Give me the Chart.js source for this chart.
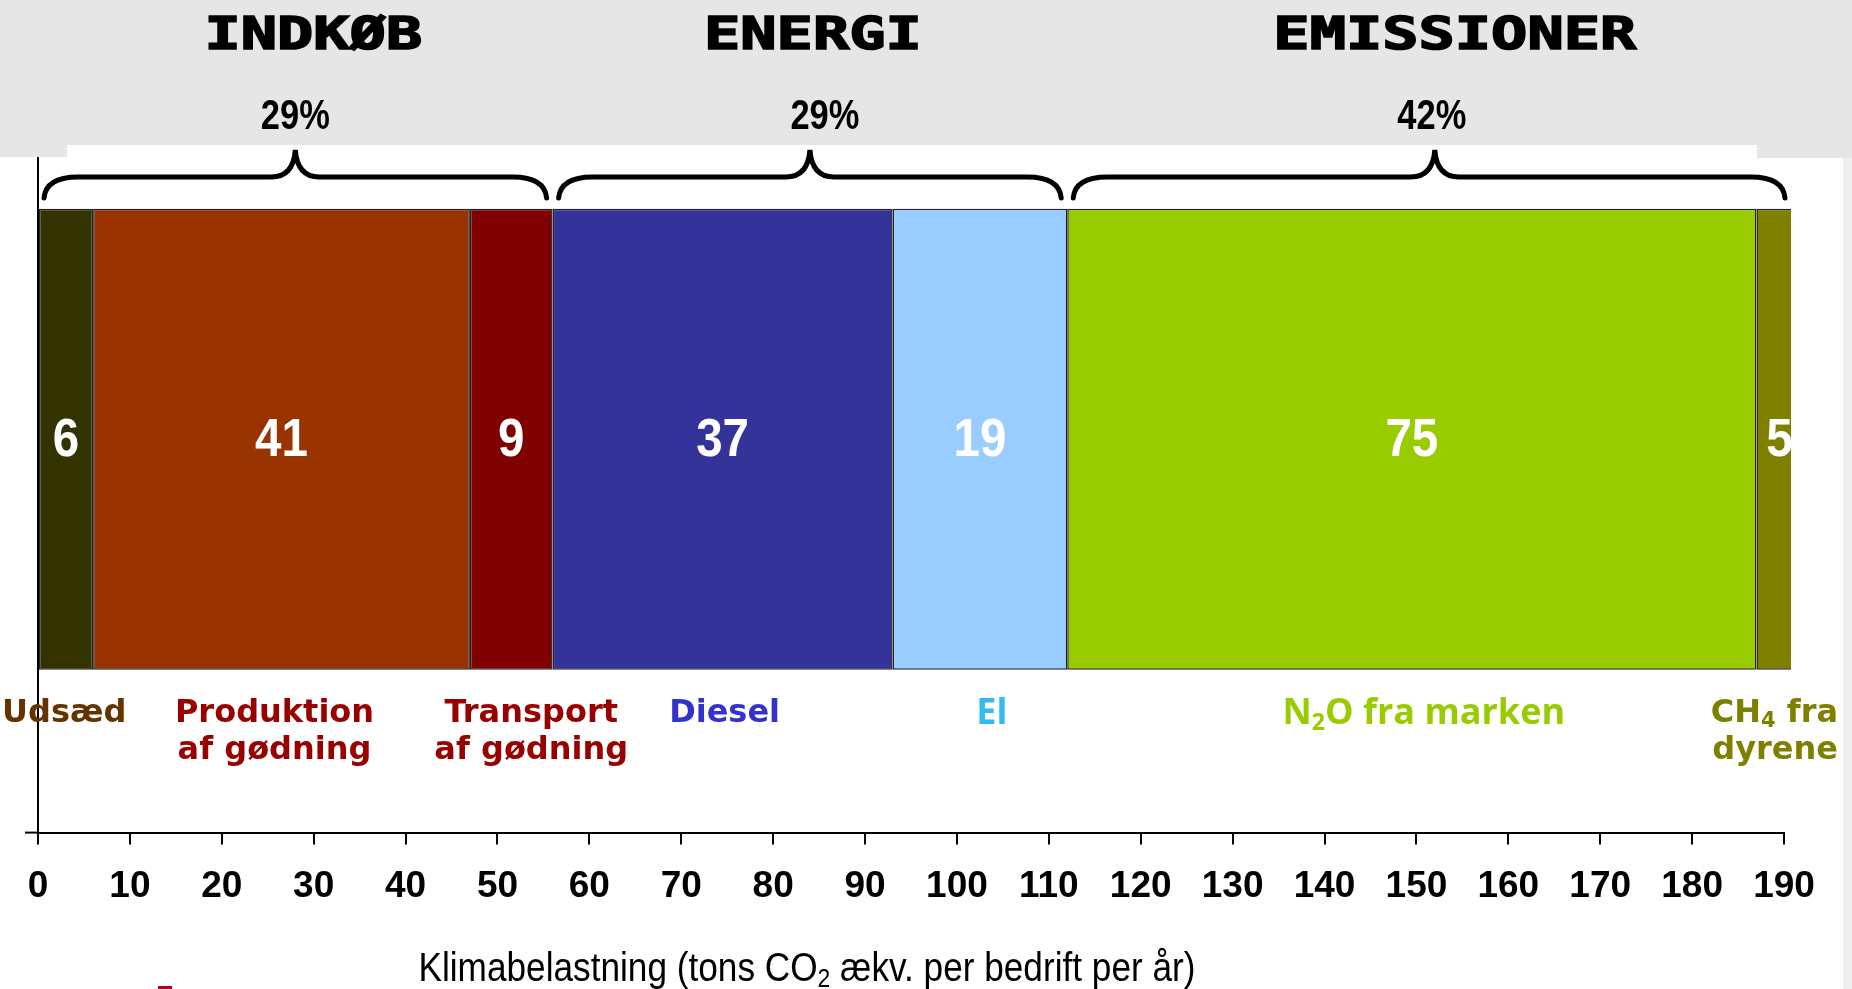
<!DOCTYPE html>
<html>
<head>
<meta charset="utf-8">
<script src="https://cdn.jsdelivr.net/npm/chart.js@4/dist/chart.umd.min.js"></script>
<style>
  html, body { margin: 0; padding: 0; background: #fff; overflow: hidden; }
  #wrap { width: 1852px; height: 989px; }
</style>
</head>
<body>
<div id="wrap"><canvas id="chart" width="1852" height="989"></canvas></div>
<script>
// segments of the stacked bar, left to right
const segmentNames = ['Udsæd', 'Produktion af gødning', 'Transport af gødning', 'Diesel', 'El', 'N₂O fra marken', 'CH₄ fra dyrene'];
const segmentLines = [['Udsæd'], ['Produktion', 'af gødning'], ['Transport', 'af gødning'], ['Diesel'], ['El'], ['N₂O fra marken'], ['CH₄ fra', 'dyrene']];
const segmentValues = [6, 41, 9, 37, 19, 75, 5];

// groups marked with braces above the bar
const groupNames = ['INDKØB', 'ENERGI', 'EMISSIONER'];
const groupShares = ['29%', '29%', '42%'];
const groupCounts = [3, 2, 2];

// x axis
const xMin = 0, xMax = 190, xStep = 10;
const xTitle = 'Klimabelastning (tons CO₂ ækv. per bedrift per år)';

// styles
const segmentColors = ['#333300', '#993300', '#800000', '#333399', '#99ccff', '#99cc00', '#808000'];
const labelColors = ['#663300', '#990000', '#990000', '#3333cc', '#33bbee', '#99cc00', '#808000'];
const labelPlace = [
  { anchor: 'left', at: 2 },
  { dx: -7 }, { dx: 20 }, { dx: 2 },
  { dx: 12, family: '"Open Sans", sans-serif', size: 36 },
  { dx: 12, family: '"Open Sans", sans-serif', size: 36 },
  { anchor: 'right', at: 1838 }
];
const titleNudge = [18, 3, 20];
const shareNudge = [0, 15, -3];
const ARIAL = '"Liberation Sans", Arial, sans-serif';
const VERDANA = '"DejaVu Sans", Verdana, sans-serif';
const MONO = '"DejaVu Sans Mono", monospace';
const OVERFLOW = 7; // bar runs a few px past the last tick

const SUBS = '₀₁₂₃₄₅₆₇₈₉';

function splitSubs(text) {
  const parts = [];
  for (const ch of text) {
    const sub = SUBS.indexOf(ch);
    const isSub = sub >= 0;
    const c = isSub ? String(sub) : ch;
    const last = parts[parts.length - 1];
    if (last && last.sub === isSub) last.t += c; else parts.push({ t: c, sub: isSub });
  }
  return parts;
}

// text with subscript digits, optionally squeezed horizontally
function drawRich(ctx, text, x, y, size, family, weight, align, sx) {
  sx = sx || 1;
  const parts = splitSubs(text);
  const big = weight + ' ' + size + 'px ' + family;
  const small = weight + ' ' + Math.round(size * 0.65) + 'px ' + family;
  let total = 0;
  parts.forEach(p => { ctx.font = p.sub ? small : big; p.w = ctx.measureText(p.t).width; total += p.w; });
  let cx = align === 'center' ? -total / 2 : align === 'right' ? -total : 0;
  ctx.save();
  ctx.translate(x, y);
  ctx.scale(sx, 1);
  ctx.textAlign = 'left';
  ctx.textBaseline = 'middle';
  parts.forEach(p => {
    ctx.font = p.sub ? small : big;
    ctx.fillText(p.t, cx, p.sub ? size * 0.25 : 0);
    cx += p.w;
  });
  ctx.restore();
}

function brace(ctx, x0, x1, xm, yEnd, yLine, yTip) {
  const r = 34, t = 24;
  ctx.beginPath();
  ctx.moveTo(x0, yEnd);
  ctx.quadraticCurveTo(x0 + 2, yLine, x0 + r, yLine);
  ctx.lineTo(xm - t, yLine);
  ctx.quadraticCurveTo(xm - 2, yLine, xm, yTip);
  ctx.quadraticCurveTo(xm + 2, yLine, xm + t, yLine);
  ctx.lineTo(x1 - r, yLine);
  ctx.quadraticCurveTo(x1 - 2, yLine, x1, yEnd);
  ctx.stroke();
}

const decor = {
  id: 'decor',
  afterDatasetsDraw(chart) {
    const { ctx, chartArea: a } = chart;
    ctx.save();
    ctx.beginPath();
    ctx.rect(a.left, a.top, a.right - a.left + OVERFLOW, a.bottom - a.top);
    ctx.clip();
    ctx.fillStyle = '#ffffff';
    segmentValues.forEach((v, i) => {
      const bar = chart.getDatasetMeta(i).data[0];
      const p = bar.getProps(['x', 'y', 'base'], true);
      drawRich(ctx, String(v), (p.x + p.base) / 2, p.y + 2, 54, ARIAL, 'bold', 'center', 0.88);
    });
    ctx.restore();
  },
  afterDraw(chart) {
    const { ctx, chartArea: a } = chart;
    const xs = chart.scales.x;
    const W = chart.width, H = chart.height;
    ctx.save();

    // slide background
    ctx.fillStyle = '#e6e6e6';
    ctx.fillRect(0, 0, W, 145);
    ctx.fillRect(0, 145, 67, 12);
    ctx.fillRect(1757, 145, W - 1757, 13);
    ctx.fillStyle = '#efefef';
    ctx.fillRect(1843, 158, W - 1843, H - 158);
    ctx.fillStyle = '#b00020';
    ctx.fillRect(158, 986, 14, 3);

    // x axis line extends a little left of zero
    ctx.strokeStyle = '#000';
    ctx.lineWidth = 2;
    ctx.beginPath();
    ctx.moveTo(a.left - 13, a.bottom);
    ctx.lineTo(a.left, a.bottom);
    ctx.stroke();

    // braces, group names and shares
    let start = 0, idx = 0;
    groupNames.forEach((g, gi) => {
      let sum = 0;
      for (let k = 0; k < groupCounts[gi]; k++) sum += segmentValues[idx + k];
      idx += groupCounts[gi];
      const px0 = xs.getPixelForValue(start);
      const px1 = Math.min(xs.getPixelForValue(start + sum), a.right + OVERFLOW);
      const mid = (xs.getPixelForValue(start) + xs.getPixelForValue(start + sum)) / 2;
      start += sum;

      ctx.strokeStyle = '#000';
      ctx.lineWidth = 5;
      ctx.lineCap = 'round';
      brace(ctx, px0 + 6, px1 - 6, mid, 198, 177, 150);

      ctx.fillStyle = '#000';
      ctx.strokeStyle = '#000';
      ctx.lineWidth = 1.6;
      ctx.save();
      ctx.translate(mid + titleNudge[gi], 38);
      ctx.scale(1.37, 1);
      ctx.font = 'bold 44px ' + MONO;
      ctx.textAlign = 'center';
      ctx.textBaseline = 'middle';
      ctx.fillText(g, 0, 0);
      ctx.strokeText(g, 0, 0);
      ctx.restore();

      drawRich(ctx, groupShares[gi], mid + shareNudge[gi], 117, 42, ARIAL, 'bold', 'center', 0.82);
    });

    // segment names under the bar
    segmentLines.forEach((lines, i) => {
      const bar = chart.getDatasetMeta(i).data[0];
      const p = bar.getProps(['x', 'base'], true);
      const s = labelPlace[i];
      let x = (p.x + p.base) / 2 + (s.dx || 0), align = 'center';
      if (s.anchor === 'left') { x = s.at; align = 'left'; }
      if (s.anchor === 'right') { x = s.at; align = 'right'; }
      ctx.fillStyle = labelColors[i];
      lines.forEach((ln, li) => {
        drawRich(ctx, ln, x, 714 + li * 37, s.size || 32, s.family || VERDANA, 'bold', align);
      });
    });

    // axis title
    ctx.fillStyle = '#000';
    drawRich(ctx, xTitle, (a.left + a.right) / 2 - 104, 970, 40, ARIAL, 'normal', 'center', 0.88);

    ctx.restore();
  }
};

new Chart(document.getElementById('chart'), {
  type: 'bar',
  data: {
    labels: ['Bedrift'],
    datasets: segmentNames.map((name, i) => ({
      label: name,
      data: [segmentValues[i]],
      backgroundColor: segmentColors[i],
      borderColor: '#222',
      borderWidth: 1.5,
      borderSkipped: false,
      barPercentage: 0.586,
      categoryPercentage: 1,
      clip: { left: 0, top: 0, right: OVERFLOW, bottom: 0 }
    }))
  },
  options: {
    indexAxis: 'y',
    responsive: false,
    animation: false,
    devicePixelRatio: 1,
    layout: { padding: { left: 38, right: 68, top: 46, bottom: 60 } },
    plugins: {
      legend: { display: false },
      tooltip: { enabled: false },
      title: { display: false }
    },
    scales: {
      x: {
        stacked: true,
        min: xMin,
        max: xMax,
        ticks: {
          stepSize: xStep,
          color: '#000',
          font: { family: ARIAL, size: 37, weight: 'bold' },
          padding: 20,
          maxRotation: 0,
          autoSkip: false
        },
        grid: { drawOnChartArea: false, drawTicks: true, tickLength: 12, color: '#000', lineWidth: 2 },
        border: { display: true, color: '#000', width: 2 }
      },
      y: {
        stacked: true,
        ticks: { display: false },
        grid: { display: false, drawTicks: false },
        border: { display: true, color: '#000', width: 2 }
      }
    }
  },
  plugins: [decor]
});
</script>
</body>
</html>
